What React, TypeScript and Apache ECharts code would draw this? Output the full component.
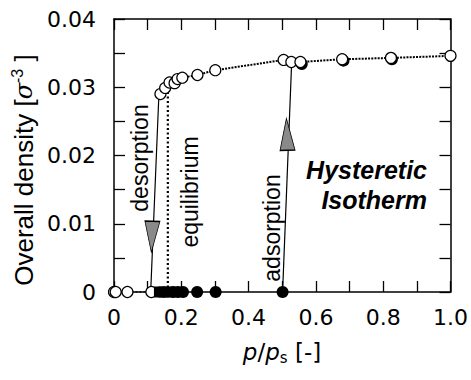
import React, { useEffect, useRef } from "react";
import * as echarts from "echarts";

const upperOpenX = [0.138, 0.152, 0.165, 0.18, 0.189, 0.203, 0.248, 0.301, 0.504, 0.527, 0.554, 0.678, 0.823, 1.0];
const upperOpenY = [0.029, 0.0299, 0.0307, 0.0306, 0.0312, 0.0314, 0.0318, 0.0325, 0.034, 0.0337, 0.0337, 0.0341, 0.0343, 0.0346];
const upperFilledX = [0.558, 0.682, 0.826, 1.002];
const upperFilledY = [0.0334, 0.0339, 0.0341, 0.0343];
const lowerOpenX = [0, 0.005, 0.04, 0.111];
const lowerSquareX = [0.135, 0.148, 0.16];
const lowerFilledX = [0.176, 0.19, 0.205, 0.247, 0.302, 0.501];
const desorptionArrow = [[0.133, 0.0284], [0.109, 0]];
const desorptionHead = [0.1125, 0.0081];
const adsorptionArrow = [[0.501, 0], [0.528, 0.0337]];
const adsorptionHead = [0.514, 0.0231];
const equilibriumX = 0.16;
const equilibriumTop = 0.0298;
const xTicks = { min: 0, max: 1.0, interval: 0.2 };
const yTicks = { min: 0, max: 0.04, interval: 0.01 };

const FONT = "Liberation Sans";
const WIDE = "DejaVu Sans";

export default function App() {
  const ref = useRef<HTMLDivElement>(null);
  useEffect(() => {
    if (!ref.current) return;
    const chart = echarts.init(ref.current, undefined, { renderer: "svg" });
    const axisCommon = {
      axisLine: { show: true, onZero: false, lineStyle: { color: "#000", width: 1.5 } },
      axisTick: { show: true, inside: true, length: 11, lineStyle: { color: "#000", width: 1.3 } },
      minorTick: { show: true, splitNumber: 2, length: 11, lineStyle: { color: "#000", width: 1.3 } },
      splitLine: { show: false },
    };
    const openSym = { color: "#fff", borderColor: "#000", borderWidth: 1.2, opacity: 1 };
    const fillSym = { color: "#000", opacity: 1 };
    chart.setOption({
      animation: false,
      grid: { left: 114, right: 18, top: 19, bottom: 88 },
      xAxis: [
        {
          type: "value", ...xTicks, position: "bottom", ...axisCommon,
          axisLabel: { fontFamily: WIDE, fontSize: 22, color: "#000", margin: 14,
            formatter: (v: number) => (v === 0 ? "0" : v.toFixed(1)) },
        },
        { type: "value", ...xTicks, position: "top", ...axisCommon, axisLabel: { show: false } },
      ],
      yAxis: [
        {
          type: "value", ...yTicks, position: "left", ...axisCommon,
          axisLabel: { fontFamily: WIDE, fontSize: 22, color: "#000", margin: 18,
            formatter: (v: number) => (v === 0 ? "0" : v.toFixed(2)) },
        },
        { type: "value", ...yTicks, position: "right", ...axisCommon, axisLabel: { show: false } },
      ],
      series: [
        {
          type: "line", data: upperOpenX.map((x, i) => [x, upperOpenY[i]]), symbol: "none",
          lineStyle: { color: "#000", width: 2, type: [2, 1.2] }, z: 2,
        },
        {
          type: "line", data: [[lowerOpenX[2], 0], [lowerOpenX[3], 0]], symbol: "none",
          lineStyle: { color: "#000", width: 1.5, type: [2, 2] }, z: 2,
        },
        {
          type: "line", data: [[equilibriumX, 0], [equilibriumX, equilibriumTop]], symbol: "none",
          lineStyle: { color: "#000", width: 2.2, type: [2, 2.5] }, z: 2,
        },
        {
          type: "line", data: desorptionArrow, symbol: "none",
          lineStyle: { color: "#000", width: 1.2 }, z: 2,
        },
        {
          type: "line", data: adsorptionArrow, symbol: "none",
          lineStyle: { color: "#000", width: 1.2 }, z: 2,
        },
        {
          type: "scatter", data: [desorptionHead], symbol: "triangle", symbolSize: [15, 31], symbolRotate: 178,
          itemStyle: { color: "#8a8a8a", borderColor: "#000", borderWidth: 1, opacity: 1 }, z: 3,
        },
        {
          type: "scatter", data: [adsorptionHead], symbol: "triangle", symbolSize: [15, 32], symbolRotate: 2,
          itemStyle: { color: "#8a8a8a", borderColor: "#000", borderWidth: 1, opacity: 1 }, z: 3,
        },
        {
          type: "scatter", data: upperFilledX.map((x, i) => [x, upperFilledY[i]]), symbolSize: 12,
          itemStyle: fillSym, z: 4,
        },
        {
          type: "scatter", data: upperOpenX.map((x, i) => [x, upperOpenY[i]]), symbolSize: 11,
          itemStyle: openSym, z: 5,
        },
        {
          type: "scatter", data: lowerOpenX.map((x) => [x, 0]), symbolSize: 11,
          itemStyle: openSym, z: 5,
        },
        {
          type: "scatter", data: lowerSquareX.map((x) => [x, 0]), symbol: "rect", symbolSize: 11,
          itemStyle: fillSym, z: 5,
        },
        {
          type: "scatter", data: lowerFilledX.map((x) => [x, 0]), symbolSize: 12,
          itemStyle: fillSym, z: 5,
        },
      ],
      graphic: [
        {
          type: "text", x: 24, y: 170, rotation: Math.PI / 2,
          style: {
            text: "{a|Overall density [}{i|σ}{s|-3}{a| ]}",
            align: "center", verticalAlign: "middle",
            rich: {
              a: { fontFamily: FONT, fontSize: 26, fill: "#000", lineHeight: 30 },
              i: { fontFamily: "DejaVu Serif", fontStyle: "italic", fontSize: 24, fill: "#000", lineHeight: 30 },
              s: { fontFamily: FONT, fontSize: 16, fill: "#000", verticalAlign: "top", lineHeight: 18, padding: [0, 0, 12, 0] },
            },
          },
        },
        {
          type: "text", x: 282, y: 352,
          style: {
            text: "{i|p}{a|/}{i|p}{s|s}{a| [-]}",
            align: "center", verticalAlign: "middle",
            rich: {
              a: { fontFamily: WIDE, fontSize: 23, fill: "#000", lineHeight: 26 },
              i: { fontFamily: WIDE, fontStyle: "italic", fontSize: 23, fill: "#000", lineHeight: 26 },
              s: { fontFamily: WIDE, fontSize: 15, fill: "#000", verticalAlign: "bottom", lineHeight: 18, padding: [8, 0, 0, 0] },
            },
          },
        },
        {
          type: "text", x: 140, y: 158, rotation: Math.PI / 2,
          style: { text: "desorption", fontFamily: FONT, fontSize: 23, fill: "#000", align: "center", verticalAlign: "middle" },
        },
        {
          type: "text", x: 190, y: 192, rotation: Math.PI / 2,
          style: { text: "equilibrium", fontFamily: FONT, fontSize: 23, fill: "#000", align: "center", verticalAlign: "middle" },
        },
        {
          type: "text", x: 272, y: 228, rotation: Math.PI / 2,
          style: { text: "adsorption", fontFamily: FONT, fontSize: 23, fill: "#000", align: "center", verticalAlign: "middle" },
        },
        {
          type: "text", x: 427, y: 170,
          style: { text: "Hysteretic", fontFamily: FONT, fontSize: 25, fontWeight: "bold", fontStyle: "italic", fill: "#000", align: "right", verticalAlign: "middle" },
        },
        {
          type: "text", x: 427, y: 200,
          style: { text: "Isotherm", fontFamily: FONT, fontSize: 25, fontWeight: "bold", fontStyle: "italic", fill: "#000", align: "right", verticalAlign: "middle" },
        },
      ],
    });
    return () => chart.dispose();
  }, []);
  return <div ref={ref} style={{ position: "absolute", left: 0, top: 0, width: 471, height: 380, background: "#fff" }} />;
}
